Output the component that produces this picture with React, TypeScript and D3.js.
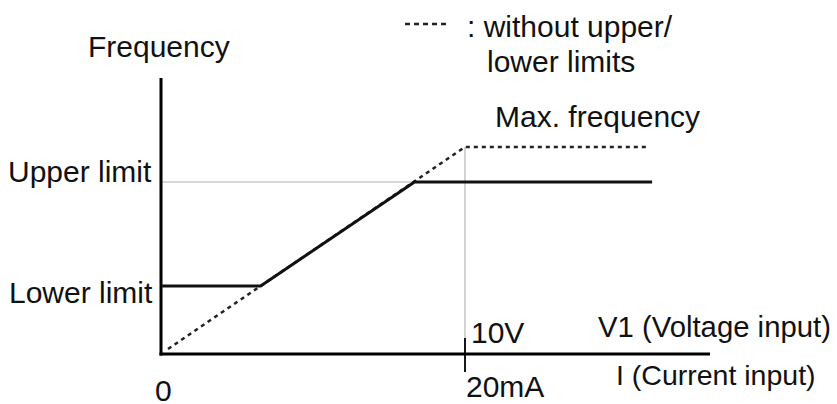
import React from "react";
import * as d3 from "d3";

// Input (volts, 0..10V == 0..20mA) and frequency (% of max) data
const solidInput = [-0.2, 3.12, 8.3, 16.3];
const solidFreq = [31.2, 31.2, 82.7, 82.7];
const dashedInput = [0, 10, 16.2];
const dashedFreq = [0, 100, 100];
const upperLimit = 82.7;
const lowerLimit = 31.2;
const maxInput = 10;
const tickTop = "10V";
const tickBottom = "20mA";
const yLabels = ["Upper limit", "Lower limit"];
const xLabelTop = "V1 (Voltage input)";
const xLabelBottom = "I (Current input)";

const W = 837;
const H = 404;
const FONT = "'Liberation Sans', Arial, sans-serif";

export default function App() {
  const x = d3.scaleLinear().domain([0, 10]).range([168, 465]);
  const y = d3.scaleLinear().domain([0, 100]).range([349, 147]);
  const axisX = x(0) - 7;
  const axisY = y(0) + 5;
  const line = d3
    .line<[number, number]>()
    .x((d) => x(d[0]))
    .y((d) => y(d[1]));
  const solid = line(solidInput.map((v, i) => [v, solidFreq[i]] as [number, number]));
  const dashed = line(dashedInput.map((v, i) => [v, dashedFreq[i]] as [number, number]));
  const fs = 30;
  return (
    <svg
      width={W}
      height={H}
      style={{ position: "absolute", left: 0, top: 0, background: "#fff" }}
      fontFamily={FONT}
    >
      {/* gray guides */}
      <line x1={axisX} x2={x(maxInput)} y1={y(upperLimit)} y2={y(upperLimit)} stroke="#c8c8c8" strokeWidth={1.6} />
      <line x1={x(maxInput)} x2={x(maxInput)} y1={y(100)} y2={axisY} stroke="#c8c8c8" strokeWidth={1.6} />
      {/* axes */}
      <line x1={axisX} x2={axisX} y1={78} y2={axisY + 1.5} stroke="#000" strokeWidth={3} />
      <line x1={axisX - 1.5} x2={710} y1={axisY} y2={axisY} stroke="#000" strokeWidth={3} />
      <line x1={x(maxInput)} x2={x(maxInput)} y1={axisY - 16} y2={axisY + 18} stroke="#000" strokeWidth={1.8} />
      {/* dashed: without limits */}
      <path d={dashed ?? ""} fill="none" stroke="#222" strokeWidth={2.6} strokeDasharray="4 4" />
      {/* solid: with limits */}
      <path d={solid ?? ""} fill="none" stroke="#111" strokeWidth={3} />
      {/* texts */}
      <text x={88} y={57} fontSize={fs} fill="#111">Frequency</text>
      <text x={8} y={182} fontSize={fs} fill="#111">{yLabels[0]}</text>
      <text x={9} y={303} fontSize={fs} fill="#111">{yLabels[1]}</text>
      <text x={155} y={401} fontSize={fs} fill="#111">0</text>
      <text x={495} y={127} fontSize={fs} fill="#111">Max. frequency</text>
      <line x1={405} x2={448} y1={24} y2={24} stroke="#222" strokeWidth={2.4} strokeDasharray="5 4" />
      <text x={467} y={37} fontSize={fs} fill="#111">: without upper/</text>
      <text x={487} y={72} fontSize={fs} fill="#111">lower limits</text>
      <text x={471} y={343} fontSize={fs} fill="#111">{tickTop}</text>
      <text x={466} y={397} fontSize={fs} fill="#111">{tickBottom}</text>
      <text x={598} y={337} fontSize={29.3} fill="#111">{xLabelTop}</text>
      <text x={616} y={385} fontSize={28.5} fill="#111">{xLabelBottom}</text>
    </svg>
  );
}
